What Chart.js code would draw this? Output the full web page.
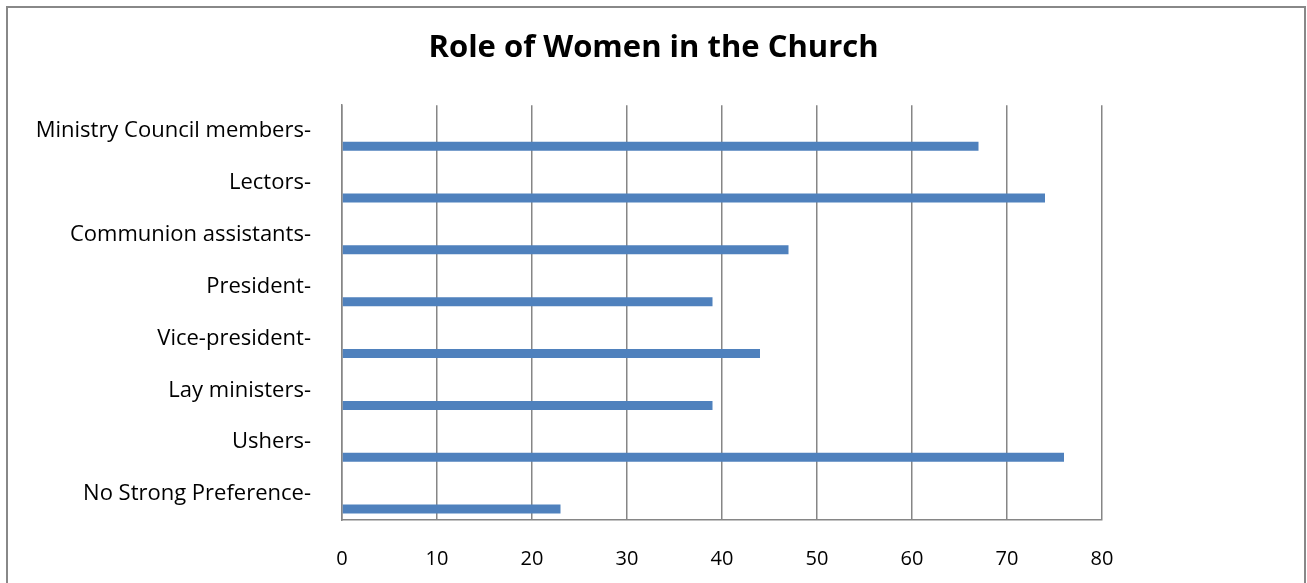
<!DOCTYPE html>
<html>
<head>
<meta charset="utf-8">
<script src="https://cdn.jsdelivr.net/npm/chart.js@4.4.1/dist/chart.umd.min.js"></script>
<style>
  html, body { margin: 0; padding: 0; background: #fff; width: 1307px; height: 583px; overflow: hidden; }
  #frame { position: absolute; left: 6px; top: 6px; width: 1300px; height: 600px; border: 2px solid #888888; box-sizing: border-box; }
  #wrap { position: absolute; left: 0; top: 0; width: 1307px; height: 583px; }
</style>
</head>
<body>
<div id="frame"></div>
<div id="wrap"><canvas id="c" width="1307" height="583"></canvas></div>
<script>
const title = 'Role of Women in the Church';
const categories = [
  'Ministry Council members-',
  'Lectors-',
  'Communion assistants-',
  'President-',
  'Vice-president-',
  'Lay ministers-',
  'Ushers-',
  'No Strong Preference-'
];
const values = [67, 74, 47, 39, 44, 39, 76, 23];
const xTicks = [0, 10, 20, 30, 40, 50, 60, 70, 80];
const spacer = categories.map(() => null);

const FONT = 'Open Sans';
const PLOT_LEFT = 342, PLOT_RIGHT = 1102, PLOT_BOTTOM = 520;

new Chart(document.getElementById('c'), {
  type: 'bar',
  data: {
    labels: categories,
    datasets: [
      { data: spacer, backgroundColor: 'rgba(0,0,0,0)' },
      { data: spacer, backgroundColor: 'rgba(0,0,0,0)' },
      { data: values, backgroundColor: '#4F81BD', borderWidth: 0 }
    ]
  },
  options: {
    indexAxis: 'y',
    responsive: false,
    animation: false,
    categoryPercentage: 0.87,
    barPercentage: 0.6,
    layout: { padding: 0 },
    plugins: {
      legend: { display: false },
      tooltip: { enabled: false },
      title: {
        display: true,
        text: title,
        color: '#000',
        font: { family: FONT, size: 31, weight: 'bold', lineHeight: 1.2 },
        padding: { top: 30, bottom: 38 }
      }
    },
    scales: {
      x: {
        min: 0, max: 80,
        afterBuildTicks: (s) => { s.ticks = xTicks.map(v => ({ value: v })); },
        afterFit: (s) => { s.height = 583 - PLOT_BOTTOM; },
        grid: { display: true, color: '#868686', lineWidth: 1.5, drawTicks: false },
        border: { display: true, color: '#868686', width: 1.5 },
        ticks: { color: '#000', padding: 27, font: { family: FONT, size: 20 } }
      },
      y: {
        afterFit: (s) => { s.width = PLOT_LEFT; },
        grid: { display: false, drawTicks: false },
        border: { display: true, color: '#868686', width: 1.5 },
        ticks: { color: '#000', padding: 31, font: { family: FONT, size: 22 } }
      },
      yRight: {
        type: 'category',
        position: 'right',
        labels: categories,
        afterFit: (s) => { s.width = 1307 - PLOT_RIGHT; },
        grid: { display: false, drawTicks: false },
        border: { display: false },
        ticks: { display: false }
      }
    }
  }
});
</script>
</body>
</html>
